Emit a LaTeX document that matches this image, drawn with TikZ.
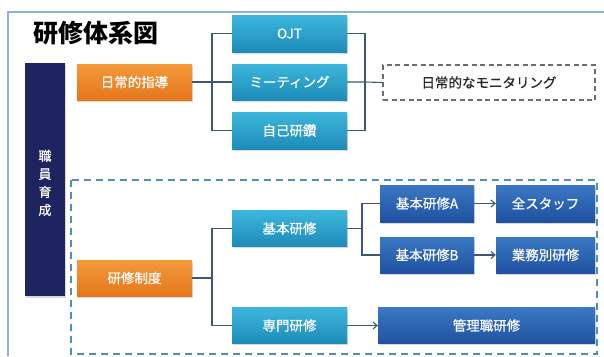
\documentclass[tikz,border=0pt]{standalone}
\usepackage{fontspec}
\setmainfont{Noto Sans CJK JP}
\newfontfamily\boxfont{Noto Sans CJK JP}[FakeBold=0.6]
\usetikzlibrary{shadows,arrows.meta}
\definecolor{navy}{HTML}{1E2460}
\definecolor{orangeT}{HTML}{F49A3A}
\definecolor{orangeB}{HTML}{E5761C}
\definecolor{tealT}{HTML}{3DB6DC}
\definecolor{tealB}{HTML}{1C8CB8}
\definecolor{blueT}{HTML}{3A78C4}
\definecolor{blueB}{HTML}{1F52A0}
\definecolor{conn}{HTML}{3D5775}
\definecolor{frame}{HTML}{8DB2D6}
\definecolor{dashblue}{HTML}{4E90B8}
\tikzset{
  base/.style={minimum height=36pt, inner sep=0pt, text=white, font=\boxfont\fontsize{13.5}{15}\selectfont,
    drop shadow={opacity=0.3, shadow xshift=1.2pt, shadow yshift=-1.5pt}},
  orangebox/.style={base, minimum width=115pt, top color=orangeT, bottom color=orangeB},
  tealbox/.style={base, minimum width=115pt, top color=tealT, bottom color=tealB},
  bluebox/.style={base, top color=blueT, bottom color=blueB},
  link/.style={conn, line width=1.1pt},
  arr/.style={link, -{Straight Barb[length=4pt,width=7pt]}},
}
\begin{document}
\begin{tikzpicture}[x=1pt,y=-1pt]
\useasboundingbox (0,0) rectangle (604,356);
\fill[white] (0,0) rectangle (604,356);
% outer frame
\draw[frame, line width=1.2pt] (8,356) -- (8,12) -- (604,12);
% title
\node[anchor=west, font=\fontsize{25}{28}\selectfont\bfseries] (title) at (30,33) {研修体系図};
% navy bar
\node[fill=navy, minimum width=40pt, minimum height=233pt, inner sep=0pt,
  drop shadow={opacity=0.3, shadow xshift=1.2pt, shadow yshift=-1.5pt}] (bar) at (45,179.5) {};
\node[text=white, align=center, font=\boxfont\fontsize{13}{18}\selectfont] (bartext) at (45,183) {職\\員\\育\\成};
% upper group
\node[orangebox] (nichijo) at (134.5,82) {日常的指導};
\node[tealbox, minimum height=37pt] (ojt) at (289.5,33.5) {OJT};
\node[tealbox] (meeting) at (289.5,82) {ミーティング};
\node[tealbox, minimum height=37pt] (jiko) at (289.5,130.5) {自己研鑽};
\node[draw=gray!85!black, line width=1.6pt, dash pattern=on 5pt off 3.5pt, minimum width=212pt, minimum height=35pt,
  inner sep=0pt, text=black!85, font=\boxfont\fontsize{13.5}{15}\selectfont] (monitor) at (489,82.5) {日常的なモニタリング};
\coordinate (j1) at (212,82);
\draw[link] (nichijo.east) -- (j1);
\draw[link] (ojt.west) -| (j1) |- (jiko.west);
\draw[link] (j1) -- (meeting.west);
\coordinate (j2) at (365,82);
\draw[link] (ojt.east) -| (j2) |- (jiko.east);
\draw[link] (meeting.east) -- (j2) -- (monitor.west);
% lower dashed group
\draw[dashblue, line width=1.4pt, dash pattern=on 7pt off 5pt] (71,180) rectangle (597,354);
\node[orangebox] (seido) at (134.5,278) {研修制度};
\node[tealbox] (kihon) at (289.5,228.5) {基本研修};
\node[tealbox] (senmon) at (289.5,325.5) {専門研修};
\node[bluebox, minimum width=94pt, minimum height=37pt] (kA) at (427,203.5) {基本研修A};
\node[bluebox, minimum width=99pt, minimum height=37pt] (zen) at (545.5,203.5) {全スタッフ};
\node[bluebox, minimum width=94pt, minimum height=36pt] (kB) at (427,255) {基本研修B};
\node[bluebox, minimum width=99pt, minimum height=36pt] (gyomu) at (545.5,255) {業務別研修};
\node[bluebox, minimum width=217pt, minimum height=36pt] (kanri) at (486.5,325.5) {管理職研修};
\coordinate (j3) at (212,278);
\draw[link] (seido.east) -- (j3);
\draw[link] (kihon.west) -| (j3) |- (senmon.west);
\coordinate (j4) at (362,228.5);
\draw[link] (kihon.east) -- (j4);
\draw[link] (kA.west) -| (j4) |- (kB.west);
\draw[arr] (kA.east) -- (zen.west);
\draw[arr] (kB.east) -- (gyomu.west);
\draw[arr] (senmon.east) -- (kanri.west);
\end{tikzpicture}
\end{document}
